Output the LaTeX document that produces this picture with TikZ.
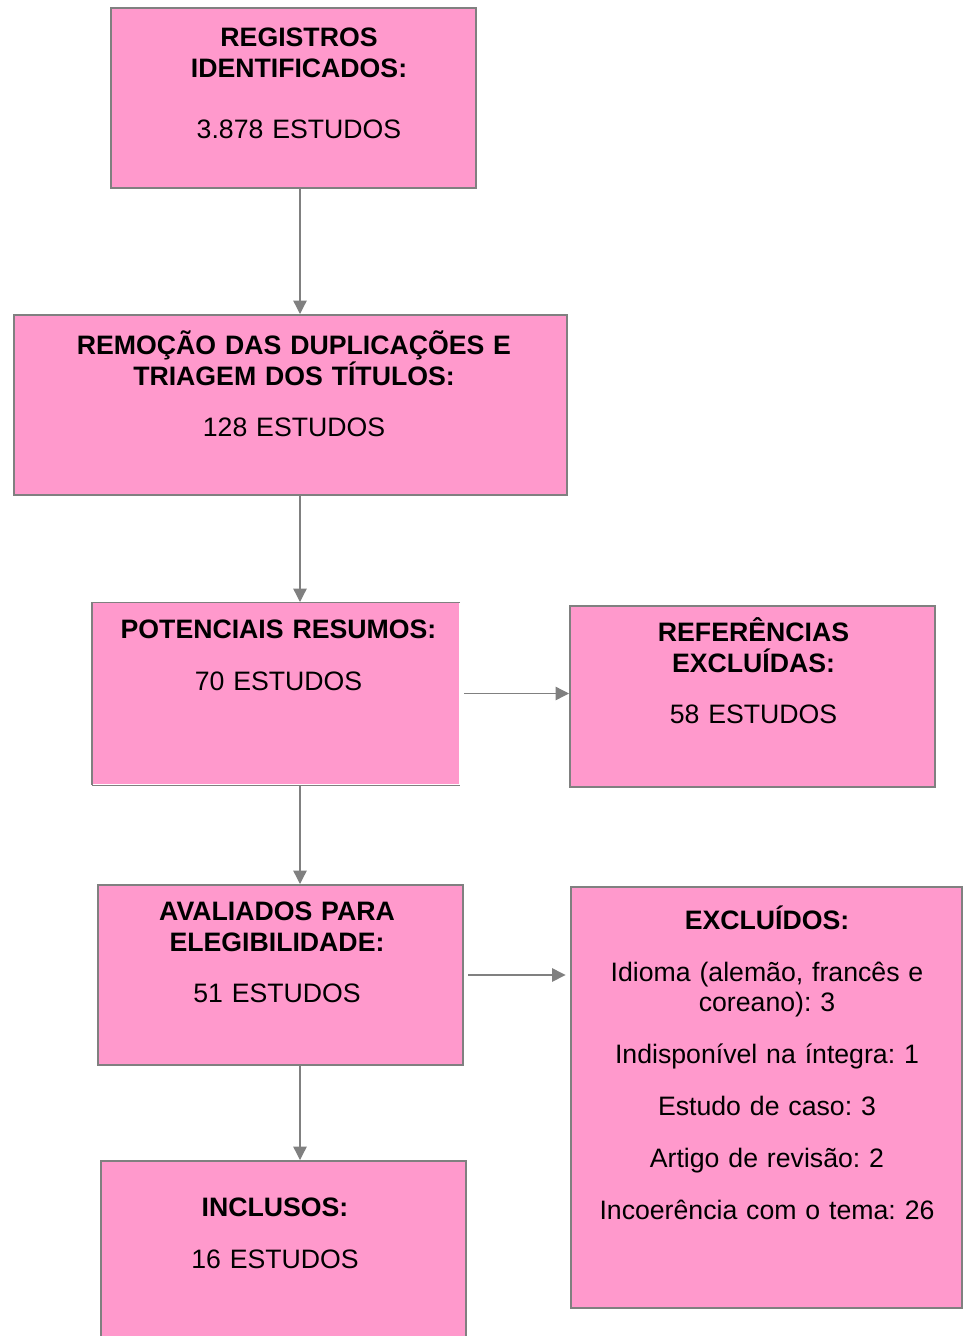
\documentclass[tikz,border=0pt]{standalone}
\usepackage{fontspec}
\setmainfont{Liberation Sans}
\usetikzlibrary{arrows.meta}
\definecolor{boxpink}{HTML}{FF99CC}
\definecolor{linegray}{HTML}{808080}
\frenchspacing

\begin{document}
\begin{tikzpicture}[x=0.45pt, y=-0.45pt,
  box/.style 2 args={draw=linegray, fill=boxpink, line width=0.9pt, inner sep=0,
    minimum width=#1*0.45pt, minimum height=#2*0.45pt},
  txt/.style={anchor=base, align=center, text width=#1*0.45pt, inner sep=0,
    font=\fontsize{12}{13.8}\selectfont},
  arr/.style={linegray, line width=0.6pt, -{Triangle[length=6pt, width=6pt]}}]
\clip (0,0) rectangle (964,1336);
\coordinate (spine) at (300,0);
% boxes
\node[box={365}{180}] (b1) at (293.5,98) {};
\node[box={553}{180}] (b2) at (290.5,405) {};
\node[box={366}{181}, draw=none] (b3) at (276,693.5) {};
\node[box={365}{181}] (b4) at (752.5,696.5) {};
\node[box={365}{180}] (b5) at (280.5,975) {};
\node[box={391}{421}] (b6) at (766.5,1097.5) {};
\node[box={365}{180}] (b7) at (283.5,1251) {};
\draw[linegray, line width=0.45pt] (b3.north east) -- (b3.north west) (b3.south west) -- (b3.south east);
\draw[linegray, line width=0.9pt] (b3.north west) -- (b3.south west);
% texts
\node[txt=340] (t1) at (299,46.5) {\textbf{REGISTROS\\IDENTIFICADOS:}\\[13.6pt]3.878 ESTUDOS};
\node[txt=520] (t2) at (294,354.5) {\textbf{REMOÇÃO DAS DUPLICAÇÕES E\\TRIAGEM DOS TÍTULOS:}\\[9.5pt]128 ESTUDOS};
\node[txt=340] (t3) at (278.5,638.5) {\textbf{POTENCIAIS RESUMOS:}\\[9.5pt]70 ESTUDOS};
\node[txt=340] (t4) at (753.5,641.5) {\textbf{REFERÊNCIAS\\EXCLUÍDAS:}\\[9.5pt]58 ESTUDOS};
\node[txt=340] (t5) at (277,920.5) {\textbf{AVALIADOS PARA\\ELEGIBILIDADE:}\\[9.5pt]51 ESTUDOS};
\node[txt=380] (t6) at (767,929.5) {\textbf{EXCLUÍDOS:}\\[9.5pt]Idioma (alemão, francês e\\coreano): 3\\[9.5pt]Indisponível na íntegra: 1\\[9.5pt]Estudo de caso: 3\\[9.5pt]Artigo de revisão: 2\\[9.5pt]Incoerência com o tema: 26};
\node[txt=340] (t7) at (275,1216.5) {\textbf{INCLUSOS:}\\[9.5pt]16 ESTUDOS};
% connectors
\foreach \a/\b in {b1/b2, b2/b3, b3/b5, b5/b7}
  \draw[arr] (\a.south -| spine) -- (\b.north -| spine);
\draw[arr, shorten <=2pt] (b3.east) -- (b3.east -| b4.west);
\draw[arr, shorten <=2pt, shorten >=2pt] (b5.east) -- (b5.east -| b6.west);
\end{tikzpicture}
\end{document}
